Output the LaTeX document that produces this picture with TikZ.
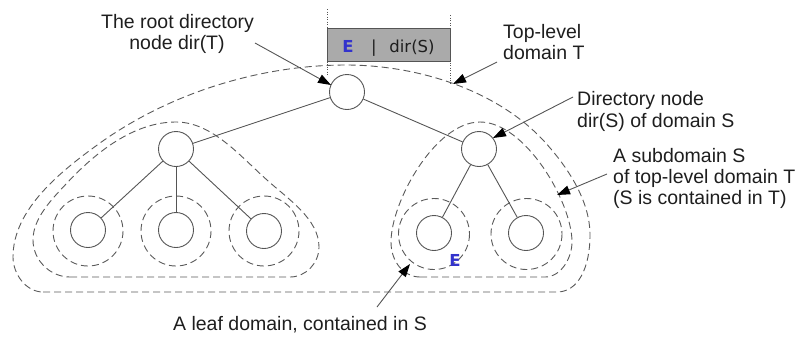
\documentclass[tikz,border=0pt]{standalone}
\usepackage{fontspec}
\setmainfont{Liberation Sans}
\newfontfamily\boxfont{DejaVu Sans}
\usetikzlibrary{arrows.meta}
\definecolor{ln}{HTML}{555555}
\definecolor{dsh}{HTML}{5A5A5A}
\definecolor{eblue}{HTML}{3333CC}
\definecolor{boxgray}{HTML}{AAAAAA}
\definecolor{txt}{HTML}{1E1E1E}
\begin{document}
\begin{tikzpicture}[x=1pt,y=-1pt,
  vert/.style={circle,draw=ln,fill=white,line width=0.9pt,minimum size=35pt,inner sep=0pt},
  edge/.style={draw=ln,line width=0.9pt},
  dom/.style={draw=dsh,line width=0.9pt,dash pattern=on 7pt off 4pt},
  lbl/.style={font=\fontsize{19.5}{23}\selectfont,text=txt,inner sep=0pt,anchor=base west},
  lblc/.style={lbl,anchor=base},
  boxtxt/.style={font=\boxfont\fontsize{16.5}{20}\selectfont,text=txt,inner sep=0pt,anchor=base},
  etxt/.style={font=\boxfont\bfseries\fontsize{16.5}{20}\selectfont,text=eblue,inner sep=0pt,anchor=base},
  pointer/.style={draw=ln,line width=0.9pt,-{Triangle[length=13pt,width=9pt,color=black]}},
  guide/.style={draw=ln,line width=0.5pt,dotted}]
\useasboundingbox (0,0) rectangle (803,338);

% top-level domain T
\draw[dom] (43,292) -- (557,292)
  .. controls (578,292) and (590,268) .. (590,235)
  .. controls (590,200) and (567,166) .. (543,140)
  .. controls (495,89) and (416,65) .. (346,65)
  .. controls (260,65) and (170,93) .. (100,143)
  .. controls (61,171) and (13,209) .. (13,257)
  .. controls (13,274) and (26,292) .. (43,292) -- cycle;

% left subdomain
\draw[dom] (70,277) -- (290,277)
  .. controls (306,277) and (319,263) .. (319,247)
  .. controls (319,219) and (288,199) .. (267,180)
  .. controls (240,156) and (212,122) .. (176,122)
  .. controls (134,122) and (96,152) .. (67,183)
  .. controls (52,199) and (33,218) .. (33,240)
  .. controls (33,260) and (50,277) .. (70,277) -- cycle;

% right subdomain S
\draw[dom] (420,277) -- (545,277)
  .. controls (561,277) and (572,258) .. (572,242)
  .. controls (572,202) and (525,122) .. (480,122)
  .. controls (435,122) and (391,202) .. (391,242)
  .. controls (391,262) and (404,277) .. (420,277) -- cycle;

% leaf domains
\draw[dom] (88,231) circle[radius=35];
\draw[dom] (176,231) circle[radius=35];
\draw[dom] (264,231) circle[radius=35];
\draw[dom] (434,234) circle[radius=35.5];
\draw[dom] (526.5,234) circle[radius=35.5];

% guides and box
\draw[guide] (327,9) -- (327,75);
\draw[guide] (450,15) -- (450,83);
\node (box) [draw=ln,fill=boxgray,line width=0.9pt,minimum width=123pt,minimum height=33pt,inner sep=0pt,anchor=north west] at (327,28) {};
\node[etxt] (boxE) at (348,52) {E};
\node[boxtxt] (bar) at (374,52) {|};
\node[boxtxt] (dirS) at (412,52) {dir(S)};

% tree nodes
\node[vert] (root) at (347,92) {};
\node[vert] (cl) at (176,149) {};
\node[vert] (cr) at (479,149) {};
\node[vert] (l1) at (88,230) {};
\node[vert] (l2) at (176,230) {};
\node[vert] (l3) at (264,231) {};
\node[vert] (l4) at (434,233) {};
\node[vert] (l5) at (526,233) {};

\draw[edge] (root) -- (cl);
\draw[edge] (root) -- (cr);
\draw[edge] (cl) -- (l1);
\draw[edge] (cl) -- (l2);
\draw[edge] (cl) -- (l3);
\draw[edge] (cr) -- (l4);
\draw[edge] (cr) -- (l5);

\node[etxt] (leafE) at (455,266) {E};

% labels
\node[lblc] (r1) at (177.5,28) {The root directory};
\node[lblc] (r2) at (177,49) {node dir(T)};
\node[lbl] (t1) at (503,38) {Top-level};
\node[lbl] (t2) at (503,59) {domain T};
\node[lbl] (d1) at (577,105) {Directory node};
\node[lbl] (d2) at (577,127) {dir(S) of domain S};
\node[lbl] (s1) at (613,162) {A subdomain S};
\node[lbl] (s2) at (613,183.5) {of top-level domain T};
\node[lbl] (s3) at (613,204) {(S is contained in T)};
\node[lblc] (lf) at (300,330) {A leaf domain, contained in S};

% pointers
\coordinate (pa0) at (255,43);  \coordinate (pa1) at (331,85);
\coordinate (pb0) at (497,62);  \coordinate (pb1) at (453,84);
\coordinate (pc0) at (573,97);  \coordinate (pc1) at (493,138);
\coordinate (pd0) at (607,174); \coordinate (pd1) at (557,195);
\coordinate (pe0) at (377,307); \coordinate (pe1) at (410,264);
\draw[pointer] (pa0) -- (pa1);
\draw[pointer] (pb0) -- (pb1);
\draw[pointer] (pc0) -- (pc1);
\draw[pointer] (pd0) -- (pd1);
\draw[pointer] (pe0) -- (pe1);
\end{tikzpicture}
\end{document}
